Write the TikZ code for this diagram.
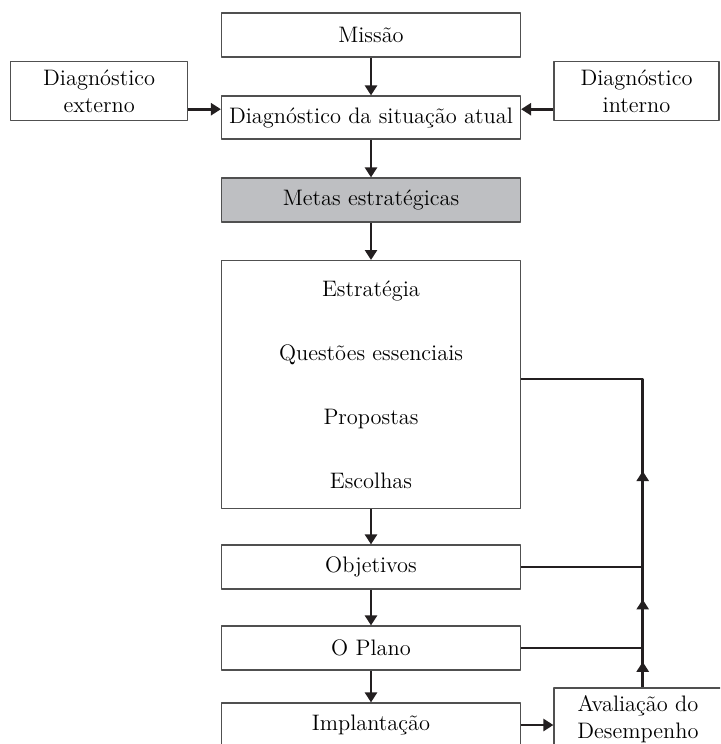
\documentclass[tikz,border=0pt]{standalone}
\usetikzlibrary{arrows.meta,positioning,decorations.markings}
\definecolor{linegray}{RGB}{35,31,32}
\definecolor{boxgray}{RGB}{80,80,80}
\definecolor{metasfill}{RGB}{190,191,194}
\begin{document}
\begin{tikzpicture}[x=0.5pt,y=-0.5pt,line join=round,>={Triangle[length=5pt,width=6pt]}]
	\tikzset{every node/.style={font=\fontsize{11.2}{13.5}\selectfont},
		caixa/.style={draw=boxgray,line width=0.6pt,fill=white,inner sep=0pt,minimum height=22pt,minimum width=149.5pt,align=center},
		seta/.style={draw=linegray,line width=1.4pt},
		midarrow/.style={postaction={decorate},decoration={markings,mark=at position #1 with {\arrow{Triangle[length=5pt,width=6pt]}}}}}
	\useasboundingbox (0,0) rectangle (720,744);
	\clip (0,0) rectangle (720,744);
	% caixas
	\node[caixa] (missao) at (371,35) {Missão};
	\node[caixa,minimum height=21.5pt] (situacao) at (371,117.5) {Diagnóstico da situação atual};
	\node[caixa,minimum width=88.5pt,minimum height=29.5pt] (externo) at (99.2,91.2) {Diagnóstico\\externo};
	\node[caixa,minimum width=82.5pt,minimum height=29.5pt] (interno) at (636.5,91.2) {Diagnóstico\\interno};
	\node[caixa,fill=metasfill] (metas) at (371,200) {Metas estratégicas};
	\node[caixa,minimum height=124pt] (estrategia) at (371,384.6) {Estratégia\\[18.5pt]Questões essenciais\\[18.5pt]Propostas\\[18.5pt]Escolhas};
	\node[caixa] (objetivos) at (371,567) {Objetivos};
	\node[caixa] (plano) at (371,648) {O Plano};
	\node[caixa] (implantacao) at (371,725) {Implantação};
	\node[caixa,minimum width=84pt,minimum height=31pt] (avaliacao) at (638,719) {Avaliação do\\Desempenho};
	% fluxo principal
	\draw[seta,->] (missao) -- (situacao);
	\draw[seta,->] (situacao) -- (metas);
	\draw[seta,->] (metas) -- (estrategia);
	\draw[seta,->] (estrategia) -- (objetivos);
	\draw[seta,->] (objetivos) -- (plano);
	\draw[seta,->] (plano) -- (implantacao);
	\coordinate (extout) at ([yshift=-9pt]externo.east);
	\coordinate (intout) at ([yshift=-9pt]interno.west);
	\draw[seta,->] (extout) -- (extout -| situacao.west);
	\draw[seta,->] (intout) -- (intout -| situacao.east);
	\draw[seta,->] (implantacao.east) -- (implantacao.east -| avaliacao.west);
	% retorno
	\coordinate (retorno) at (642.7,379);
	\draw[seta,midarrow=0.65] (avaliacao.north -| retorno) -- (plano.east -| retorno);
	\draw[seta,midarrow=0.6] (plano.east -| retorno) -- (objetivos.east -| retorno);
	\draw[seta,midarrow=0.31] (objetivos.east -| retorno) -- (retorno) -- (retorno -| estrategia.east);
	\draw[seta] (plano.east) -- (plano.east -| retorno);
	\draw[seta] (objetivos.east) -- (objetivos.east -| retorno);
\end{tikzpicture}
\end{document}
